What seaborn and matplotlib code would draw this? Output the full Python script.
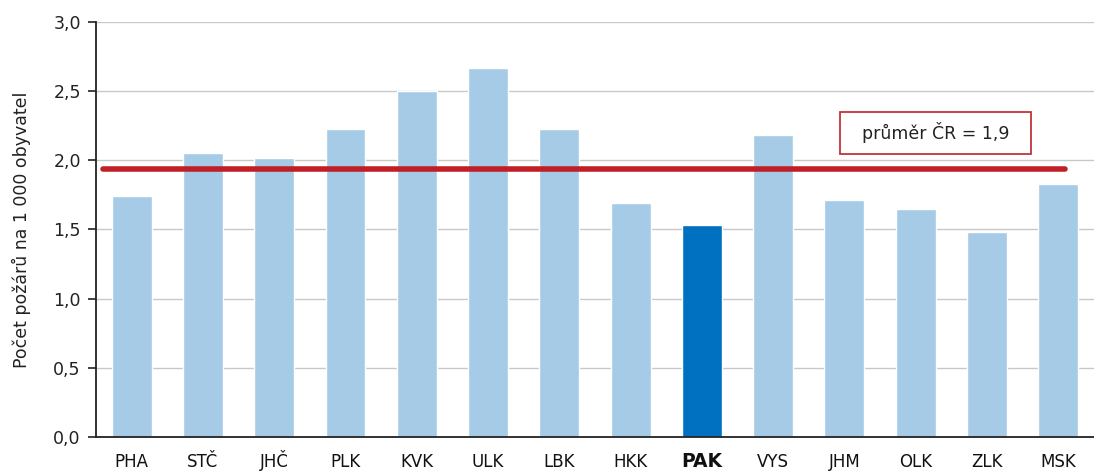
import numpy as np
import pandas as pd
import matplotlib
matplotlib.use("Agg")
import matplotlib.pyplot as plt
import seaborn as sns

sns.set_style("white")
plt.rcParams["font.family"] = ["DejaVu Sans"]

# Data
regions = ["PHA", "STČ", "JHČ", "PLK", "KVK", "ULK", "LBK", "HKK", "PAK", "VYS", "JHM", "OLK", "ZLK", "MSK"]
fires_per_1000 = [1.74, 2.05, 2.02, 2.23, 2.50, 2.67, 2.23, 1.69, 1.53, 2.18, 1.71, 1.65, 1.48, 1.83]
highlight = "PAK"
cr_average = 1.94
avg_label = "průměr ČR = 1,9"

df = pd.DataFrame({"kraj": regions, "pocet": fires_per_1000})
palette = {r: ("#0070c0" if r == highlight else "#a6cbe6") for r in regions}

fig = plt.figure(figsize=(10.94, 4.75), dpi=100)
ax = fig.add_axes([0.0878, 0.08, 0.912, 0.8737])

sns.barplot(data=df, x="kraj", y="pocet", hue="kraj", palette=palette,
            width=0.56, legend=False, ax=ax, saturation=1)

ax.set_ylim(0, 3.0)
ax.set_xlim(-0.5, len(regions) - 0.5)
yt = np.arange(0, 3.01, 0.5)
ax.set_yticks(yt)
ax.set_yticklabels([f"{v:.1f}".replace(".", ",") for v in yt], fontsize=12.5, color="#222222")
ax.yaxis.grid(True, color="#c8c8c8", linewidth=1)
ax.set_axisbelow(True)

# category ticks between bars
ax.set_xticks(np.arange(len(regions)))
ax.set_xticklabels(regions, fontsize=12, color="#111111", va="baseline")
ax.tick_params(axis="x", length=0, pad=21.5)
ax.set_xticks(np.arange(-0.5, len(regions) - 0.4, 1), minor=True)
ax.tick_params(axis="x", which="minor", length=5, width=1.2, color="#222222", direction="out")
ax.tick_params(axis="y", length=6, width=1.2, color="#222222", direction="out", left=True, pad=5)
for lbl in ax.get_xticklabels():
    if lbl.get_text() == highlight:
        lbl.set_fontweight("bold")
        lbl.set_fontsize(13.5)

for side in ["top", "right"]:
    ax.spines[side].set_visible(False)
for side in ["left", "bottom"]:
    ax.spines[side].set_color("#222222")
    ax.spines[side].set_linewidth(1.3)

ax.set_xlabel("")
ax.set_ylabel("Počet požárů na 1 000 obyvatel", fontsize=12.5, color="#222222", labelpad=16)

# national average line
ax.plot([-0.4, 13.1], [cr_average, cr_average], color="#c01f26", linewidth=4,
        solid_capstyle="round", zorder=3)
ax.text(11.28, 2.20, "  " + avg_label + "  ", fontsize=12.5, color="#222222", ha="center", va="center",
        bbox=dict(boxstyle="square,pad=0.6", facecolor="white", edgecolor="#c0343c", linewidth=1.3))

fig.savefig("out.png", dpi=100)
